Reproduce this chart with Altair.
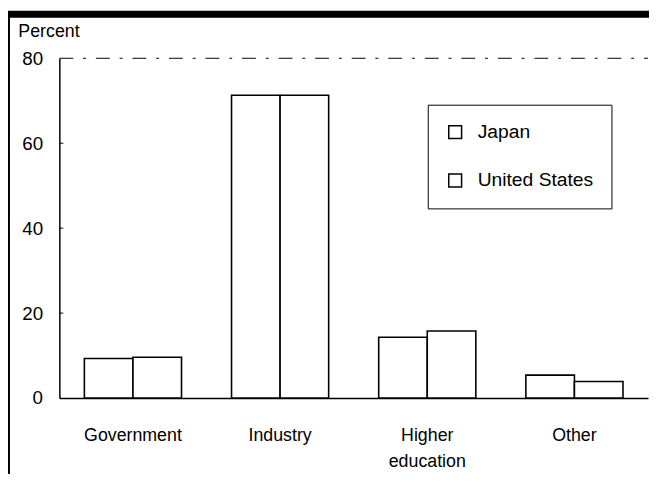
import altair as alt
import pandas as pd

categories = ["Government", "Industry", "Higher education", "Other"]
series = ["Japan", "United States"]
japan = [9.3, 71.3, 14.3, 5.4]
united_states = [9.6, 71.3, 15.8, 3.9]
y_ticks = [0, 20, 40, 60, 80]

rows = []
for c, j, u in zip(categories, japan, united_states):
    rows.append({"category": c, "country": "Japan", "value": j})
    rows.append({"category": c, "country": "United States", "value": u})
df = pd.DataFrame(rows)

FONT = "Liberation Sans"

yscale = alt.Scale(domain=[0, 80], nice=False)

bars = alt.Chart(df).mark_bar(stroke="black", strokeWidth=1.6).encode(
    x=alt.X("category:N", sort=categories,
            scale=alt.Scale(paddingInner=0.34, paddingOuter=0.17),
            axis=alt.Axis(title=None, labelAngle=0, ticks=False,
                          labelPadding=29, labelFontSize=18,
                          labelLineHeight=26,
                          labelExpr="datum.label == 'Higher education' ? ['Higher', 'education'] : datum.label")),
    xOffset=alt.XOffset("country:N", sort=series, scale=alt.Scale(paddingInner=0, paddingOuter=0)),
    y=alt.Y("value:Q", scale=yscale,
            axis=alt.Axis(values=y_ticks, ticks=False, grid=False, labelPadding=17,
                          labelFontSize=19, title="Percent", titleAngle=0,
                          titleX=-42, titleY=-22, titleAlign="left",
                          titleBaseline="alphabetic", titleFontSize=18,
                          titleFontWeight="normal")),
    color=alt.Color("country:N", sort=series,
                    scale=alt.Scale(domain=series, range=["white", "white"]),
                    legend=alt.Legend(title=None, orient="none", legendX=373, legendY=47,
                                      symbolType="square", symbolSize=169,
                                      symbolStrokeColor="black", symbolStrokeWidth=1.5,
                                      labelFontSize=19.5, labelOffset=13, rowPadding=28,
                                      padding=18, strokeColor="black", fillColor="white",
                                      labelLimit=300)),
)

tick_df = pd.DataFrame({"v": y_ticks[1:4]})
inner_ticks = alt.Chart(tick_df).mark_rule(color="black", strokeWidth=1).encode(
    y=alt.Y("v:Q", scale=yscale), x=alt.value(0), x2=alt.value(4)
)

top_df = pd.DataFrame({"v": [80]})
top_line = alt.Chart(top_df).mark_rule(color="black", strokeWidth=1, strokeDash=[14, 10, 3, 10]).encode(
    y=alt.Y("v:Q", scale=yscale), x=alt.value(0), x2=alt.value(596)
)

one = pd.DataFrame({"a": [0]})
top_band = alt.Chart(one).mark_rect(color="black").encode(
    x=alt.value(-52), x2=alt.value(600), y=alt.value(-48), y2=alt.value(-41)
)
left_border = alt.Chart(one).mark_rule(color="black", strokeWidth=2).encode(
    x=alt.value(-51), y=alt.value(-45), y2=alt.value(425)
)

chart = alt.layer(bars, inner_ticks, top_line, top_band, left_border).properties(
    width=596, height=344,
    autosize=alt.AutoSizeParams(type="none"),
    padding={"left": 52, "top": 48, "right": 1, "bottom": 74},
).configure_view(stroke=None).configure_axis(
    domainColor="black", domainWidth=1.5, labelColor="black", titleColor="black",
    labelFont=FONT, titleFont=FONT,
).configure_legend(labelFont=FONT, labelColor="black")

chart.save("out.html", embed_options={"renderer": "svg", "actions": False})
